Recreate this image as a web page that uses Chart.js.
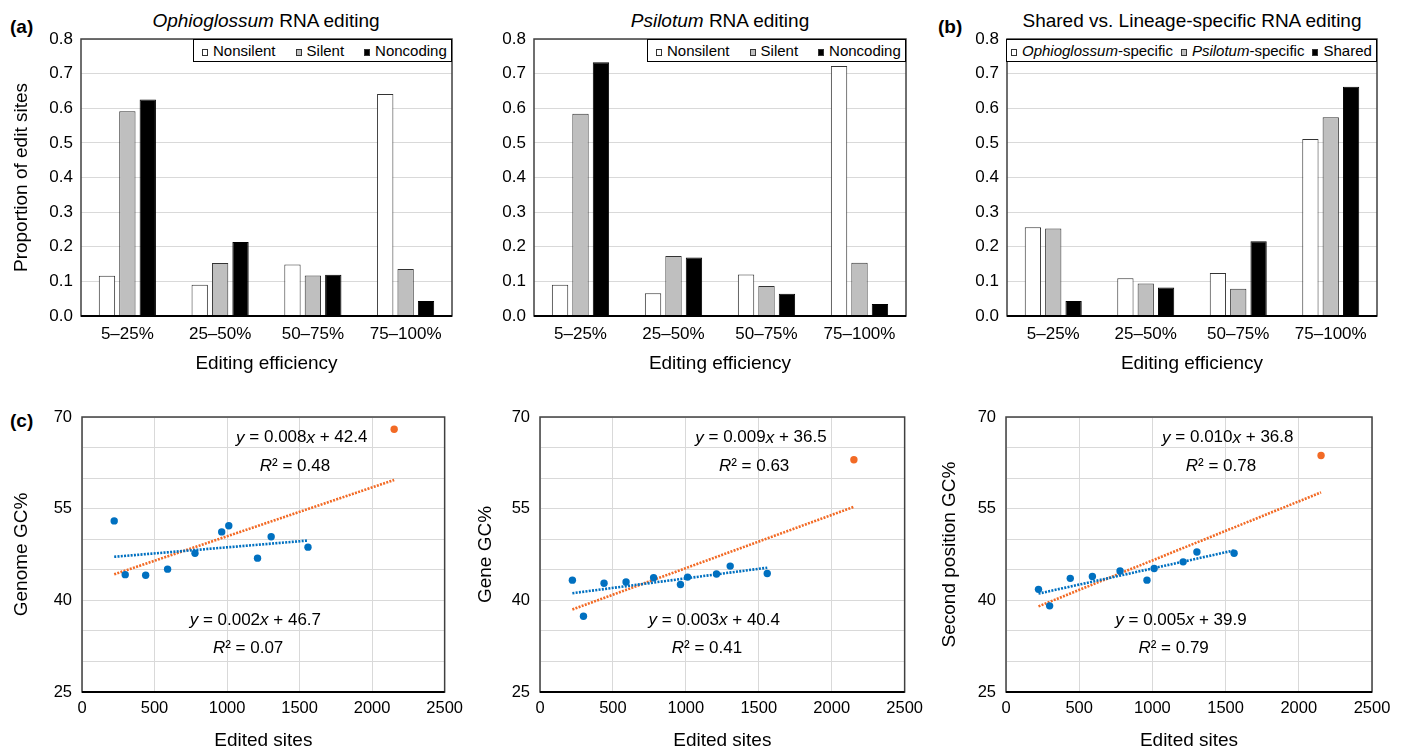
<!DOCTYPE html>
<html>
<head>
<meta charset="utf-8">
<script src="https://cdn.jsdelivr.net/npm/chart.js@4.4.1/dist/chart.umd.min.js"></script>
<style>
  body { margin: 0; background: #fff; }
  #fig { position: relative; width: 1402px; height: 750px; overflow: hidden; background: #fff;
         font-family: "Liberation Sans", Arial, sans-serif; color: #000; }
  #fig canvas { position: absolute; }
  .tag { position: absolute; font-size: 19px; font-weight: bold; line-height: 19px; }
  .ttl { position: absolute; width: 440px; text-align: center; font-size: 19px; line-height: 19px; white-space: nowrap; }
  .legend { position: absolute; display: flex; align-items: center; height: 21px; border: 1px solid #000;
            background: #fff; font-size: 15px; line-height: 21px; white-space: nowrap; }
  .legend .sw { display: inline-block; width: 4px; height: 5px; border: 1px solid #333; margin-right: 5px; }
</style>
</head>
<body>
<div id="fig">
  <div class="tag" style="left:10px;top:17px">(a)</div>
  <div class="tag" style="left:938px;top:17px">(b)</div>
  <div class="tag" style="left:10px;top:411px">(c)</div>
  <div class="ttl" style="left:46px;top:11px"><i>Ophioglossum</i> RNA editing</div>
  <div class="ttl" style="left:500px;top:11px"><i>Psilotum</i> RNA editing</div>
  <div class="ttl" style="left:972px;top:11px">Shared vs. Lineage-specific RNA editing</div>

  <canvas id="oph" width="470" height="380" style="left:0;top:0"></canvas>
  <canvas id="psi" width="460" height="380" style="left:470px;top:0"></canvas>
  <canvas id="shared" width="472" height="380" style="left:930px;top:0"></canvas>
  <canvas id="genome" width="470" height="362" style="left:0;top:390px"></canvas>
  <canvas id="gene" width="460" height="362" style="left:470px;top:390px"></canvas>
  <canvas id="second" width="472" height="362" style="left:930px;top:390px"></canvas>
</div>
<script>
// --- bar panels: proportion of edit sites per editing-efficiency bin
const categories = ['5–25%', '25–50%', '50–75%', '75–100%'];

const ophNonsilent = [0.116, 0.090, 0.149, 0.641];
const ophSilent    = [0.591, 0.153, 0.117, 0.136];
const ophNoncoding = [0.625, 0.214, 0.119, 0.043];

const psiNonsilent = [0.090, 0.066, 0.120, 0.722];
const psiSilent    = [0.584, 0.173, 0.087, 0.154];
const psiNoncoding = [0.733, 0.169, 0.064, 0.035];

const ophSpecific = [0.256, 0.109, 0.124, 0.511];
const psiSpecific = [0.253, 0.094, 0.079, 0.574];
const sharedSites = [0.043, 0.082, 0.216, 0.662];

// --- scatter panels: edited sites vs GC content (last species kept apart, in orange)
const editedSites  = [222, 298, 439, 590, 779, 963, 1012, 1210, 1304, 1558];
const outlierSites = [2152];

const genomeGC        = [53.0, 44.2, 44.1, 45.1, 47.7, 51.2, 52.2, 46.9, 50.4, 48.7];
const genomeGCOutlier = [68.0];
const geneGC          = [43.3, 37.4, 42.8, 43.0, 43.7, 42.6, 43.8, 44.3, 45.6, 44.4];
const geneGCOutlier   = [63.0];
const secondGC        = [41.8, 39.1, 43.6, 43.9, 44.8, 43.3, 45.2, 46.3, 47.9, 47.7];
const secondGCOutlier = [63.7];

const genomeEq = ['*y* = 0.008*x* + 42.4', '*R*² = 0.48', '*y* = 0.002*x* + 46.7', '*R*² = 0.07'];
const geneEq   = ['*y* = 0.009*x* + 36.5', '*R*² = 0.63', '*y* = 0.003*x* + 40.4', '*R*² = 0.41'];
const secondEq = ['*y* = 0.010*x* + 36.8', '*R*² = 0.78', '*y* = 0.005*x* + 39.9', '*R*² = 0.79'];

const FONT = '"Liberation Sans", Arial, sans-serif';
const BLUE = '#0070C0';
const ORANGE = '#F26A25';
const GRID = '#d9d9d9';

Chart.defaults.font.family = FONT;
Chart.defaults.color = '#000';
Chart.defaults.animation = false;

// frame around the plot area
const plotBox = {
  id: 'plotBox',
  afterDatasetsDraw(chart) {
    const { ctx, chartArea: a } = chart;
    ctx.save();
    ctx.strokeStyle = '#404040';
    ctx.lineWidth = 1.5;
    ctx.strokeRect(a.left, a.top, a.right - a.left, a.bottom - a.top);
    ctx.strokeStyle = '#000';
    ctx.lineWidth = 2;
    ctx.beginPath();
    ctx.moveTo(a.left, a.bottom);
    ctx.lineTo(a.right, a.bottom);
    ctx.stroke();
    ctx.restore();
  }
};

// text with *italic* runs, centred on (x, y)
function drawRich(ctx, text, x, y, size) {
  const runs = text.split('*').map((t, i) => ({ t, it: i % 2 === 1 }));
  let total = 0;
  runs.forEach(r => {
    ctx.font = (r.it ? 'italic ' : '') + size + 'px ' + FONT;
    r.w = ctx.measureText(r.t).width;
    total += r.w;
  });
  let cx = x - total / 2;
  ctx.textAlign = 'left';
  ctx.textBaseline = 'middle';
  ctx.fillStyle = '#000';
  runs.forEach(r => {
    ctx.font = (r.it ? 'italic ' : '') + size + 'px ' + FONT;
    ctx.fillText(r.t, cx, y);
    cx += r.w;
  });
}

const eqLabels = {
  id: 'eqLabels',
  afterDraw(chart, args, opts) {
    if (!opts.items) return;
    const { ctx, scales } = chart;
    ctx.save();
    opts.items.forEach(it => {
      drawRich(ctx, it.text, scales.x.getPixelForValue(it.x), scales.y.getPixelForValue(it.y), 17);
    });
    ctx.restore();
  }
};

function richHtml(s) {
  return s.split('*').map((t, i) => i % 2 ? '<i>' + t + '</i>' : t).join('');
}

function htmlLegend(chart, canvas, padLeft, gap) {
  const box = document.createElement('div');
  box.className = 'legend';
  box.style.padding = '0 4px 0 ' + padLeft + 'px';
  chart.data.datasets.forEach((ds, i) => {
    const item = document.createElement('span');
    if (i > 0) item.style.marginLeft = gap + 'px';
    item.innerHTML = '<span class="sw" style="background:' + ds.backgroundColor + '"></span>' + richHtml(ds.label);
    box.appendChild(item);
  });
  document.getElementById('fig').appendChild(box);
  const a = chart.chartArea;
  box.style.top = (canvas.offsetTop + a.top) + 'px';
  box.style.left = (canvas.offsetLeft + a.right - box.offsetWidth) + 'px';
}

function barChart(id, series, lay) {
  const canvas = document.getElementById(id);
  const chart = new Chart(canvas, {
    type: 'bar',
    data: {
      labels: categories,
      datasets: series.map(s => ({
        label: s.label,
        data: s.data,
        backgroundColor: s.fill,
        borderColor: s.fill === '#000000' ? '#000' : '#333',
        borderWidth: 1,
        categoryPercentage: 0.66,
        barPercentage: 0.8
      }))
    },
    options: {
      responsive: false,
      layout: { padding: { top: 39, right: lay.right, left: 0, bottom: 0 } },
      plugins: { legend: { display: false }, tooltip: { enabled: false } },
      scales: {
        x: {
          grid: { display: false, drawTicks: false },
          border: { display: false },
          ticks: { font: { size: 17 }, padding: 8, maxRotation: 0, autoSkip: false },
          title: { display: true, text: 'Editing efficiency', font: { size: 19 }, padding: { top: 0, bottom: 5 } },
          afterFit: s => { s.height = 64; }
        },
        y: {
          min: 0, max: 0.8,
          ticks: { stepSize: 0.1, font: { size: 17 }, padding: 8, callback: v => v.toFixed(1) },
          grid: { color: GRID, drawTicks: false },
          border: { display: false },
          title: lay.yTitle
            ? { display: true, text: lay.yTitle, font: { size: 19 }, padding: { top: 10.6, bottom: 0 } }
            : { display: false },
          afterFit: s => { s.width = lay.yWidth; }
        }
      }
    },
    plugins: [plotBox]
  });
  htmlLegend(chart, canvas, lay.legendPad, lay.legendGap);
  return chart;
}

function fitLine(xs, ys) {
  const n = xs.length;
  const mx = xs.reduce((a, b) => a + b, 0) / n;
  const my = ys.reduce((a, b) => a + b, 0) / n;
  let sxy = 0, sxx = 0;
  xs.forEach((x, i) => { sxy += (x - mx) * (ys[i] - my); sxx += (x - mx) * (x - mx); });
  const slope = sxy / sxx;
  const lo = Math.min(...xs), hi = Math.max(...xs);
  return [{ x: lo, y: my + slope * (lo - mx) }, { x: hi, y: my + slope * (hi - mx) }];
}

function gcChart(id, yTitle, gc, gcOut, eq, lay) {
  const allX = editedSites.concat(outlierSites);
  const allY = gc.concat(gcOut);
  const anchors = [[1515, 66.6], [1468, 62.0], [1195, 36.8], [1145, 32.1]];
  return new Chart(document.getElementById(id), {
    type: 'scatter',
    data: {
      datasets: [
        { data: editedSites.map((x, i) => ({ x, y: gc[i] })), backgroundColor: BLUE, borderWidth: 0, pointRadius: 3.7, order: 0 },
        { data: outlierSites.map((x, i) => ({ x, y: gcOut[i] })), backgroundColor: ORANGE, borderWidth: 0, pointRadius: 3.7, order: 0 },
        { data: fitLine(editedSites, gc), showLine: true, borderColor: BLUE, borderWidth: 2.6, borderDash: [2, 1.3], pointRadius: 0, order: 1 },
        { data: fitLine(allX, allY), showLine: true, borderColor: ORANGE, borderWidth: 2.6, borderDash: [2, 1.3], pointRadius: 0, order: 1 }
      ]
    },
    options: {
      responsive: false,
      layout: { padding: { top: 27, right: lay.right, left: 0, bottom: 0 } },
      plugins: {
        legend: { display: false },
        tooltip: { enabled: false },
        eqLabels: { items: eq.map((t, i) => ({ text: t, x: anchors[i][0], y: anchors[i][1] })) }
      },
      scales: {
        x: {
          type: 'linear', min: 0, max: 2500,
          ticks: { stepSize: 500, font: { size: 16.5 }, padding: 7, callback: v => String(v) },
          grid: { color: GRID, drawTicks: false },
          border: { display: false },
          title: { display: true, text: 'Edited sites', font: { size: 19 }, padding: { top: 0, bottom: 0 } },
          afterFit: s => { s.height = 60; }
        },
        y: {
          min: 25, max: 70,
          ticks: { stepSize: 5, font: { size: 16.5 }, padding: 10, autoSkip: false,
                   callback: v => ((v - 25) % 15 === 0 ? String(v) : '') },
          grid: { color: GRID, drawTicks: false },
          border: { display: false },
          title: { display: true, text: yTitle, font: { size: 19 }, padding: { top: lay.titlePad, bottom: 0 } },
          afterFit: s => { s.width = lay.yWidth; }
        }
      }
    },
    plugins: [plotBox, eqLabels]
  });
}

barChart('oph', [
  { label: 'Nonsilent', data: ophNonsilent, fill: '#ffffff' },
  { label: 'Silent', data: ophSilent, fill: '#bfbfbf' },
  { label: 'Noncoding', data: ophNoncoding, fill: '#000000' }
], { right: 18, yWidth: 81, yTitle: 'Proportion of edit sites', legendPad: 8, legendGap: 20 });

barChart('psi', [
  { label: 'Nonsilent', data: psiNonsilent, fill: '#ffffff' },
  { label: 'Silent', data: psiSilent, fill: '#bfbfbf' },
  { label: 'Noncoding', data: psiNoncoding, fill: '#000000' }
], { right: 24, yWidth: 64, yTitle: null, legendPad: 8, legendGap: 20 });

barChart('shared', [
  { label: '*Ophioglossum*-specific', data: ophSpecific, fill: '#ffffff' },
  { label: '*Psilotum*-specific', data: psiSpecific, fill: '#bfbfbf' },
  { label: 'Shared', data: sharedSites, fill: '#000000' }
], { right: 25, yWidth: 77, yTitle: null, legendPad: 4, legendGap: 8 });

gcChart('genome', 'Genome GC%', genomeGC, genomeGCOutlier, genomeEq, { right: 22, yWidth: 82, titlePad: 10.6 });
gcChart('gene', 'Gene GC%', geneGC, geneGCOutlier, geneEq, { right: 24, yWidth: 70, titlePad: 4 });
gcChart('second', 'Second position GC%', secondGC, secondGCOutlier, secondEq, { right: 30, yWidth: 76, titlePad: 8 });
</script>
</body>
</html>
